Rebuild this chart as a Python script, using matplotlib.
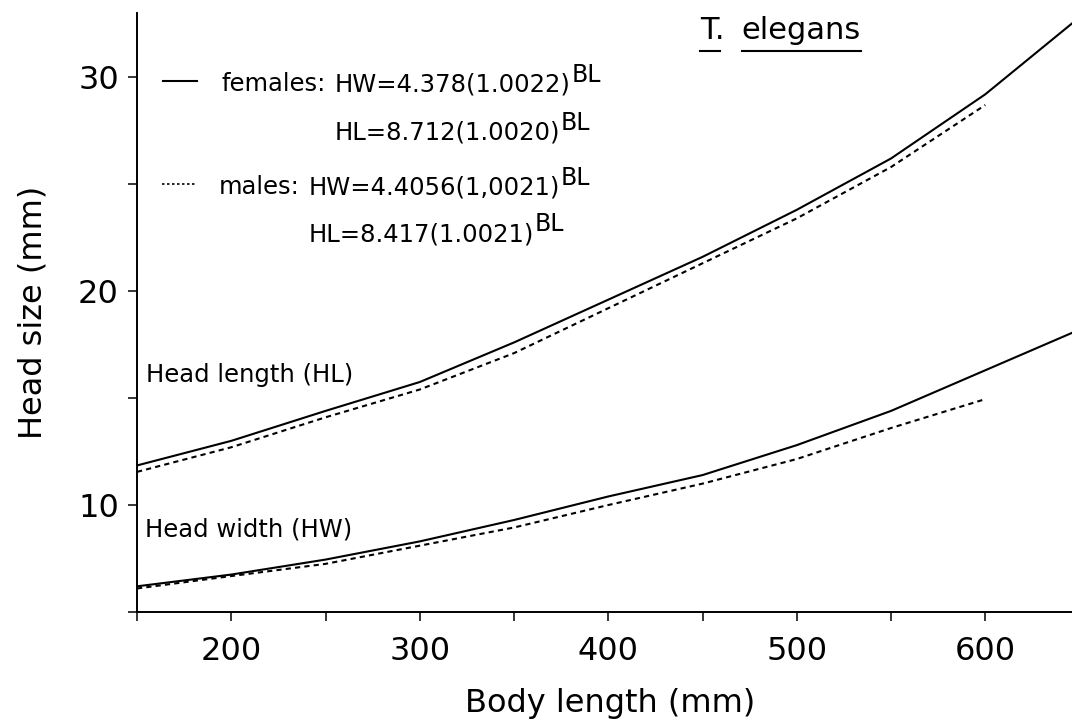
import matplotlib

matplotlib.use("agg")

import matplotlib.pyplot as plt
from matplotlib.lines import Line2D
from matplotlib.ticker import MultipleLocator

# body length (mm)
body_length = [150, 200, 250, 300, 350, 400, 450, 500, 550, 600, 650]
body_length_males = body_length[:-1]

# head length (mm)
hl_females = [11.85, 13.0, 14.4, 15.75, 17.6, 19.6, 21.6, 23.8, 26.2, 29.2, 32.8]
hl_males = [11.55, 12.7, 14.1, 15.4, 17.1, 19.2, 21.3, 23.4, 25.8, 28.7]

# head width (mm)
hw_females = [6.2, 6.75, 7.45, 8.3, 9.3, 10.4, 11.4, 12.8, 14.4, 16.3, 18.2]
hw_males = [6.1, 6.68, 7.25, 8.1, 8.95, 10.0, 11.0, 12.15, 13.6, 14.95]

x_ticks = [200, 300, 400, 500, 600]
y_ticks = [10, 20, 30]

FONT = "DejaVu Sans"
TICK_SIZE = 23
NOTE_SIZE = 17.5
DASHES = (0, (2.5, 2.0))

plt.rcParams["font.family"] = [FONT]

fig = plt.figure(figsize=(10.72, 7.21), dpi=100, facecolor="white")
ax = fig.add_axes([137 / 1072, 109 / 721, 935 / 1072, 599 / 721])

ax.set_xlim(150, 646)
ax.set_ylim(5, 33)

ax.plot(body_length, hl_females, color="black", lw=1.5, solid_joinstyle="round")
ax.plot(body_length_males, hl_males, color="black", lw=1.5, linestyle=DASHES)
ax.plot(body_length, hw_females, color="black", lw=1.5, solid_joinstyle="round")
ax.plot(body_length_males, hw_males, color="black", lw=1.5, linestyle=DASHES)

# axes
ax.spines["top"].set_visible(False)
ax.spines["right"].set_visible(False)
ax.spines["left"].set_linewidth(1.4)
ax.spines["bottom"].set_linewidth(1.4)

ax.set_xticks(x_ticks)
ax.set_yticks(y_ticks)
ax.xaxis.set_minor_locator(MultipleLocator(50))
ax.yaxis.set_minor_locator(MultipleLocator(5))
ax.tick_params(which="both", direction="out", length=6.5, width=1.1, color="black")
ax.tick_params(axis="x", which="major", labelsize=TICK_SIZE, pad=11)
ax.tick_params(axis="y", which="major", labelsize=TICK_SIZE, pad=6.5)

ax.set_xlabel("Body length (mm)", fontsize=TICK_SIZE, va="baseline")
ax.xaxis.set_label_coords(0.506, -0.167)
ax.set_ylabel("Head size (mm)", fontsize=TICK_SIZE, va="center")
ax.yaxis.set_label_coords(-0.111, 0.5)

# curve labels
ax.text(154.8, 15.75, "Head length (HL)", fontsize=NOTE_SIZE, va="baseline")
ax.text(154.0, 8.55, "Head width (HW)", fontsize=NOTE_SIZE, va="baseline")


def equation(x, y, s):
    t = ax.text(x, y, s, fontsize=NOTE_SIZE, va="baseline", ha="left")
    ax.annotate(
        "BL",
        xy=(1, 0),
        xycoords=t,
        xytext=(1, 10.5),
        textcoords="offset points",
        fontsize=17,
        va="baseline",
        ha="left",
    )
    return t


# legend block
ax.add_line(Line2D([163.8, 181.9], [29.81, 29.81], color="black", lw=1.5))
ax.text(194.6, 29.35, "females:", fontsize=NOTE_SIZE, va="baseline")
equation(254.6, 29.35, "HW=4.378(1.0022)")
equation(254.6, 27.1, "HL=8.712(1.0020)")

ax.add_line(Line2D([163.3, 181.9], [25.0, 25.0], color="black", lw=1.2, linestyle=(0, (1.5, 1.5))))
ax.text(193.5, 24.53, "males:", fontsize=NOTE_SIZE, va="baseline")
equation(240.8, 24.53, "HW=4.4056(1,0021)")
equation(240.8, 22.34, "HL=8.417(1.0021)")

# species title, underlined
t1 = ax.text(448.5, 31.78, "T.", fontsize=22, va="baseline")
t2 = ax.text(470.8, 31.78, "elegans", fontsize=22, va="baseline")

fig.canvas.draw()
renderer = fig.canvas.get_renderer()
inv = fig.transFigure.inverted()
for t, extra in ((t1, 0), (t2, 0)):
    bb = t.get_window_extent(renderer)
    x0, _ = inv.transform((bb.x0 - extra, 0))
    x1, _ = inv.transform((bb.x1 + extra, 0))
    base = ax.transData.transform((0, 31.78))[1]
    _, yy = inv.transform((0, base - 12))
    if t is t1:
        x1 = inv.transform((bb.x1 - 4, 0))[0]
    fig.add_artist(Line2D([x0, x1], [yy, yy], color="black", lw=1.5))

plt.savefig("out.png", dpi=100, facecolor="white")
plt.close(fig)
